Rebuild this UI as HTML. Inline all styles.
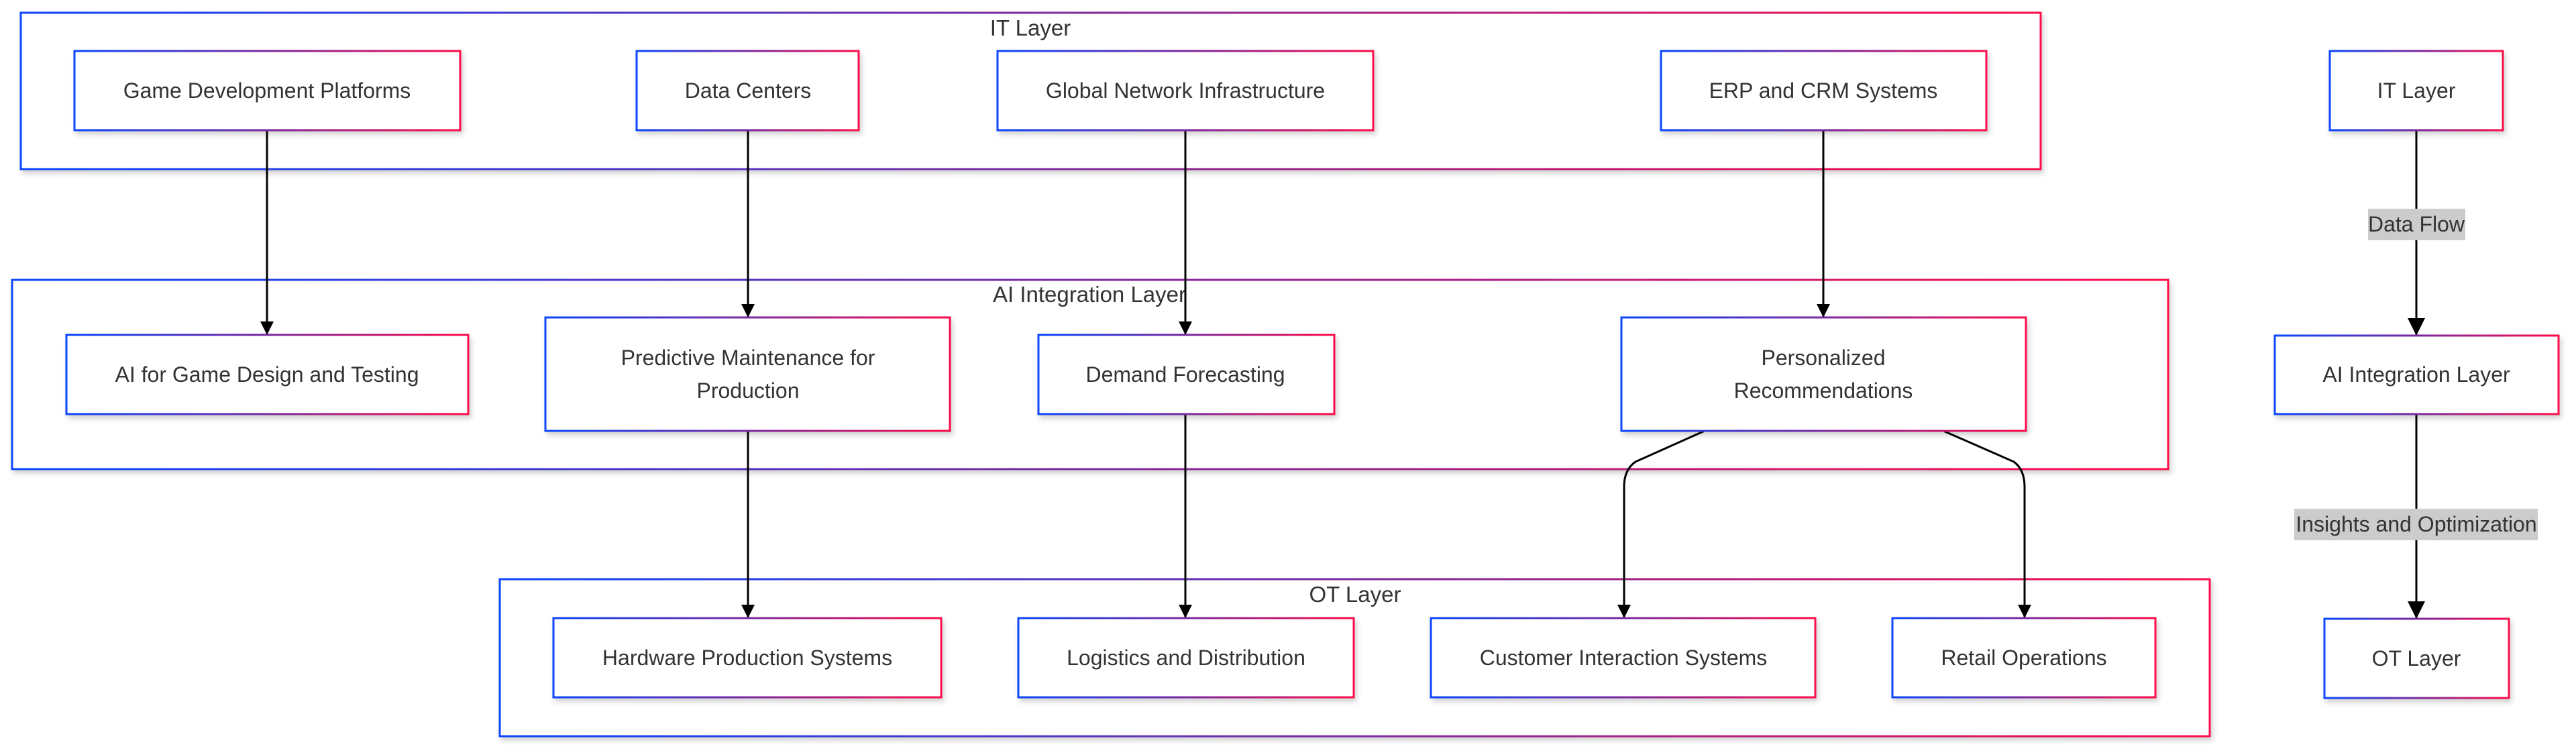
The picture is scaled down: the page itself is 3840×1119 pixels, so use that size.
<!DOCTYPE html>
<html><head><meta charset="utf-8"><style>
html,body{margin:0;padding:0;background:#fff;}
svg{display:block;}
text{font-family:"Liberation Sans",Arial,sans-serif;fill:#333;}
</style></head><body>
<svg width="3840" height="1119" viewBox="0 0 3840 1119" xmlns="http://www.w3.org/2000/svg">
<defs>
<linearGradient id="g" x1="0" y1="0" x2="1" y2="0">
<stop offset="0" stop-color="#0a46ff"/><stop offset="0.5" stop-color="#7a2aa0"/><stop offset="1" stop-color="#ff0a4a"/>
</linearGradient>
<filter id="sh" x="-5%" y="-5%" width="110%" height="130%"><feDropShadow dx="3" dy="5" stdDeviation="4" flood-color="#000" flood-opacity="0.18"/></filter>
<marker id="a" viewBox="0 0 10 10" refX="10" refY="5" markerWidth="20" markerHeight="20" markerUnits="userSpaceOnUse" orient="auto"><path d="M0,0 L10,5 L0,10 z" fill="#000"/></marker>
<marker id="b" viewBox="0 0 10 10" refX="10" refY="5" markerWidth="26" markerHeight="26" markerUnits="userSpaceOnUse" orient="auto"><path d="M0,0 L10,5 L0,10 z" fill="#000"/></marker>
</defs>
<g fill="#fff" stroke="url(#g)" stroke-width="3" filter="url(#sh)">
<rect x="31" y="19" width="3011" height="233"/>
<rect x="18" y="417" width="3214" height="282"/>
<rect x="745" y="863" width="2549" height="234"/>
</g>
<g font-size="33" text-anchor="middle">
<text x="1536" y="53" fill="#000">IT Layer</text>
<text x="1624" y="450" fill="#000">AI Integration Layer</text>
<text x="2020" y="897" fill="#000">OT Layer</text>
</g>
<g stroke="#000" stroke-width="3" fill="none">
<line x1="398" y1="194" x2="398" y2="499" marker-end="url(#a)"/>
<line x1="1115" y1="194" x2="1115" y2="473" marker-end="url(#a)"/>
<line x1="1767" y1="194" x2="1767" y2="499" marker-end="url(#a)"/>
<line x1="2718" y1="194" x2="2718" y2="473" marker-end="url(#a)"/>
<line x1="1115" y1="642" x2="1115" y2="921" marker-end="url(#a)"/>
<line x1="1767" y1="617" x2="1767" y2="921" marker-end="url(#a)"/>
<path d="M2541,642 L2438,688 Q2421,700 2421,725 L2421,921" marker-end="url(#a)"/>
<path d="M2897,642 L3002,688 Q3018,700 3018,725 L3018,921" marker-end="url(#a)"/>
<line x1="3602" y1="194" x2="3602" y2="500" marker-end="url(#b)"/>
<line x1="3602" y1="617" x2="3602" y2="922" marker-end="url(#b)"/>
</g>
<g fill="#fff" stroke="url(#g)" stroke-width="3" filter="url(#sh)">
<rect x="111" y="76" width="575" height="118"/>
<rect x="949" y="76" width="331" height="118"/>
<rect x="1487" y="76" width="560" height="118"/>
<rect x="2476" y="76" width="485" height="118"/>
<rect x="99" y="499" width="599" height="118"/>
<rect x="813" y="473" width="603" height="169"/>
<rect x="1548" y="499" width="441" height="118"/>
<rect x="2417" y="473" width="603" height="169"/>
<rect x="825" y="921" width="578" height="118"/>
<rect x="1518" y="921" width="500" height="118"/>
<rect x="2133" y="921" width="573" height="118"/>
<rect x="2821" y="921" width="392" height="118"/>
<rect x="3473" y="76" width="258" height="118"/>
<rect x="3391" y="500" width="423" height="117"/>
<rect x="3465" y="922" width="275" height="118"/>
</g>
<g fill="#ccc">
<rect x="3530" y="311" width="145" height="47"/>
<rect x="3420" y="758" width="363" height="47"/>
</g>
<g font-size="32" text-anchor="middle">
<text x="398" y="146">Game Development Platforms</text>
<text x="1115" y="146">Data Centers</text>
<text x="1767" y="146">Global Network Infrastructure</text>
<text x="2718" y="146">ERP and CRM Systems</text>
<text x="398" y="569">AI for Game Design and Testing</text>
<text x="1115" y="544">Predictive Maintenance for</text>
<text x="1115" y="593">Production</text>
<text x="1767" y="569">Demand Forecasting</text>
<text x="2718" y="544">Personalized</text>
<text x="2718" y="593">Recommendations</text>
<text x="1114" y="991">Hardware Production Systems</text>
<text x="1768" y="991">Logistics and Distribution</text>
<text x="2420" y="991">Customer Interaction Systems</text>
<text x="3017" y="991">Retail Operations</text>
<text x="3602" y="146">IT Layer</text>
<text x="3602" y="569">AI Integration Layer</text>
<text x="3602" y="992">OT Layer</text>
<text x="3602" y="345">Data Flow</text>
<text x="3602" y="792">Insights and Optimization</text>
</g>
</svg>
</body></html>
